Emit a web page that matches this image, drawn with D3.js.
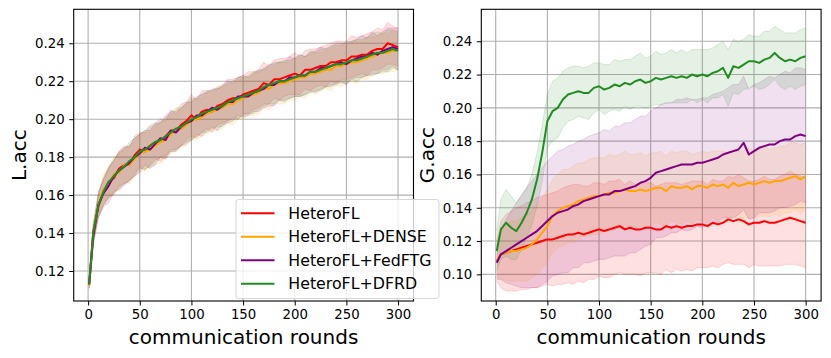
<!DOCTYPE html>
<html>
<head>
<meta charset="utf-8">
<script src="https://cdn.jsdelivr.net/npm/d3@7"></script>
<style>
  html, body { margin: 0; padding: 0; background: #fff; }
  svg text { font-family: "DejaVu Sans", sans-serif; fill: #000; }
</style>
</head>
<body>
<svg id="chart" width="831" height="358"></svg>
<script>
// ---------------- data ----------------
const rounds = [1,5,10,15,20,25,30,35,40,45,
  50,55,60,65,70,75,80,85,90,95,
  100,105,110,115,120,125,130,135,140,145,
  150,155,160,165,170,175,180,185,190,195,
  200,205,210,215,220,225,230,235,240,245,
  250,255,260,265,270,275,280,285,290,295,
  300];

const seriesNames = ["HeteroFL", "HeteroFL+DENSE", "HeteroFL+FedFTG", "HeteroFL+DFRD"];
const seriesColors = ["#ff0000", "#ffa500", "#800080", "#228b22"];

const xTicks = [0, 50, 100, 150, 200, 250, 300];
const yTicksL = [0.12, 0.14, 0.16, 0.18, 0.20, 0.22, 0.24];
const yTicksR = [0.10, 0.12, 0.14, 0.16, 0.18, 0.20, 0.22, 0.24];

// L.acc means
const lRed = [0.113,0.141,0.154,0.162,0.167,0.169,0.174,0.176,0.176,0.181,
  0.184,0.183,0.186,0.188,0.188,0.191,0.194,0.194,0.197,0.199,
  0.202,0.200,0.204,0.205,0.204,0.207,0.208,0.210,0.211,0.211,
  0.213,0.214,0.215,0.216,0.219,0.218,0.221,0.221,0.222,0.223,
  0.224,0.223,0.226,0.226,0.227,0.228,0.228,0.230,0.230,0.231,
  0.231,0.233,0.233,0.234,0.234,0.236,0.237,0.237,0.240,0.239,
  0.238];
const lOrange = [0.112,0.139,0.155,0.163,0.166,0.171,0.172,0.176,0.176,0.179,
  0.182,0.183,0.184,0.186,0.188,0.189,0.192,0.194,0.195,0.197,
  0.199,0.200,0.201,0.203,0.204,0.205,0.206,0.208,0.208,0.210,
  0.211,0.212,0.213,0.214,0.216,0.216,0.218,0.219,0.219,0.220,
  0.221,0.222,0.222,0.224,0.224,0.225,0.226,0.226,0.228,0.228,
  0.229,0.230,0.230,0.231,0.232,0.233,0.234,0.235,0.235,0.236,
  0.236];
const lPurple = [0.113,0.138,0.155,0.161,0.165,0.170,0.173,0.175,0.177,0.180,
  0.182,0.185,0.184,0.187,0.190,0.189,0.194,0.193,0.196,0.198,
  0.199,0.202,0.202,0.204,0.206,0.205,0.207,0.209,0.209,0.212,
  0.212,0.212,0.214,0.215,0.216,0.218,0.218,0.220,0.220,0.222,
  0.222,0.223,0.223,0.225,0.225,0.227,0.227,0.228,0.229,0.230,
  0.229,0.231,0.232,0.233,0.233,0.235,0.234,0.236,0.237,0.238,
  0.237];
const lGreen = [0.113,0.140,0.155,0.162,0.167,0.170,0.173,0.175,0.178,0.180,
  0.183,0.184,0.186,0.188,0.189,0.191,0.193,0.195,0.196,0.198,
  0.200,0.201,0.203,0.204,0.205,0.206,0.207,0.209,0.210,0.211,
  0.212,0.213,0.214,0.215,0.217,0.218,0.219,0.220,0.220,0.221,
  0.222,0.223,0.223,0.225,0.225,0.226,0.227,0.228,0.229,0.229,
  0.230,0.231,0.231,0.232,0.233,0.234,0.235,0.235,0.236,0.237,
  0.236];

// L.acc spreads
const lRedStd = [0.002,0.004,0.006,0.007,0.008,0.009,0.009,0.010,0.009,0.010,
  0.009,0.010,0.010,0.009,0.010,0.011,0.010,0.010,0.011,0.010,
  0.011,0.010,0.011,0.010,0.011,0.010,0.010,0.011,0.010,0.011,
  0.010,0.011,0.010,0.010,0.011,0.010,0.010,0.011,0.010,0.010,
  0.011,0.010,0.010,0.011,0.010,0.010,0.011,0.010,0.011,0.010,
  0.010,0.011,0.010,0.010,0.011,0.010,0.011,0.010,0.011,0.010,
  0.010];
const lOrangeStd = [0.002,0.005,0.006,0.008,0.008,0.009,0.010,0.009,0.010,0.009,
  0.010,0.010,0.009,0.010,0.011,0.010,0.010,0.011,0.010,0.011,
  0.010,0.011,0.010,0.011,0.010,0.011,0.011,0.010,0.011,0.010,
  0.011,0.010,0.011,0.011,0.010,0.011,0.010,0.011,0.011,0.010,
  0.011,0.010,0.011,0.010,0.011,0.010,0.010,0.011,0.010,0.011,
  0.010,0.010,0.011,0.010,0.011,0.010,0.010,0.011,0.010,0.011,
  0.010];
const lPurpleStd = [0.002,0.004,0.007,0.007,0.009,0.008,0.010,0.010,0.009,0.010,
  0.010,0.009,0.010,0.011,0.010,0.010,0.011,0.010,0.010,0.011,
  0.010,0.010,0.011,0.010,0.010,0.011,0.010,0.011,0.010,0.010,
  0.011,0.010,0.010,0.011,0.010,0.011,0.011,0.010,0.010,0.011,
  0.010,0.011,0.010,0.010,0.011,0.011,0.010,0.010,0.011,0.010,
  0.011,0.010,0.010,0.011,0.010,0.011,0.010,0.010,0.011,0.010,
  0.011];
const lGreenStd = [0.002,0.005,0.006,0.007,0.008,0.009,0.009,0.009,0.010,0.010,
  0.009,0.010,0.011,0.010,0.009,0.010,0.010,0.011,0.010,0.010,
  0.011,0.010,0.010,0.011,0.010,0.010,0.011,0.010,0.010,0.011,
  0.010,0.010,0.011,0.010,0.010,0.010,0.011,0.010,0.011,0.010,
  0.010,0.011,0.010,0.011,0.010,0.011,0.010,0.011,0.010,0.010,
  0.011,0.010,0.011,0.010,0.010,0.011,0.011,0.010,0.011,0.010,
  0.010];

// G.acc means
const gRed = [0.108,0.112,0.113,0.114,0.115,0.116,0.117,0.118,0.119,0.120,
  0.121,0.121,0.122,0.123,0.124,0.124,0.125,0.124,0.125,0.126,
  0.127,0.126,0.127,0.128,0.129,0.127,0.128,0.127,0.127,0.128,
  0.128,0.127,0.127,0.129,0.128,0.129,0.128,0.129,0.129,0.130,
  0.130,0.129,0.131,0.130,0.131,0.133,0.132,0.133,0.132,0.130,
  0.131,0.131,0.132,0.131,0.131,0.132,0.133,0.134,0.133,0.132,
  0.131];
const gOrange = [0.108,0.112,0.113,0.114,0.114,0.115,0.116,0.118,0.121,0.125,
  0.129,0.135,0.138,0.140,0.141,0.142,0.144,0.145,0.146,0.147,
  0.147,0.148,0.149,0.149,0.150,0.151,0.150,0.150,0.151,0.150,
  0.151,0.152,0.152,0.150,0.153,0.152,0.152,0.153,0.151,0.153,
  0.153,0.152,0.154,0.153,0.154,0.152,0.155,0.153,0.154,0.155,
  0.154,0.155,0.156,0.155,0.156,0.156,0.157,0.158,0.159,0.157,
  0.159];
const gPurple = [0.107,0.112,0.114,0.116,0.118,0.120,0.122,0.124,0.126,0.129,
  0.132,0.135,0.137,0.138,0.139,0.141,0.142,0.144,0.145,0.146,
  0.147,0.148,0.148,0.150,0.150,0.151,0.152,0.153,0.155,0.156,
  0.158,0.161,0.162,0.163,0.164,0.165,0.166,0.166,0.166,0.167,
  0.167,0.168,0.169,0.170,0.172,0.173,0.174,0.175,0.179,0.172,
  0.174,0.176,0.177,0.178,0.178,0.180,0.181,0.181,0.183,0.184,
  0.183];
const gGreen = [0.114,0.127,0.131,0.128,0.126,0.131,0.137,0.145,0.157,0.173,
  0.192,0.198,0.200,0.205,0.208,0.209,0.210,0.209,0.209,0.212,
  0.213,0.211,0.212,0.214,0.213,0.215,0.214,0.216,0.217,0.215,
  0.216,0.218,0.217,0.218,0.219,0.218,0.219,0.218,0.220,0.219,
  0.220,0.219,0.221,0.222,0.224,0.218,0.225,0.224,0.226,0.228,
  0.228,0.227,0.229,0.230,0.233,0.230,0.228,0.229,0.228,0.230,
  0.231];

// G.acc spreads
const gRedStd = [0.012,0.020,0.023,0.024,0.025,0.025,0.026,0.026,0.027,0.027,
  0.027,0.028,0.028,0.029,0.029,0.030,0.029,0.029,0.028,0.029,
  0.028,0.028,0.029,0.028,0.028,0.027,0.028,0.027,0.028,0.027,
  0.027,0.026,0.027,0.026,0.027,0.026,0.026,0.026,0.027,0.026,
  0.026,0.025,0.026,0.026,0.025,0.026,0.026,0.027,0.026,0.026,
  0.025,0.026,0.027,0.026,0.026,0.027,0.027,0.028,0.027,0.027,
  0.027];
const gOrangeStd = [0.010,0.015,0.017,0.018,0.018,0.019,0.020,0.020,0.021,0.021,
  0.022,0.022,0.022,0.023,0.022,0.023,0.023,0.022,0.023,0.023,
  0.023,0.022,0.023,0.022,0.022,0.023,0.022,0.022,0.022,0.021,
  0.022,0.021,0.022,0.021,0.021,0.021,0.022,0.021,0.021,0.020,
  0.021,0.021,0.020,0.021,0.020,0.021,0.020,0.021,0.020,0.021,
  0.020,0.020,0.021,0.020,0.020,0.021,0.020,0.021,0.020,0.021,
  0.020];
const gPurpleStd = [0.010,0.015,0.019,0.022,0.025,0.028,0.030,0.032,0.034,0.035,
  0.036,0.036,0.037,0.037,0.038,0.037,0.038,0.037,0.038,0.038,
  0.038,0.039,0.038,0.039,0.039,0.040,0.039,0.040,0.040,0.039,
  0.040,0.039,0.040,0.040,0.039,0.040,0.039,0.040,0.039,0.038,
  0.039,0.038,0.039,0.039,0.038,0.039,0.040,0.039,0.040,0.039,
  0.040,0.039,0.040,0.041,0.040,0.040,0.041,0.040,0.041,0.040,
  0.040];
const gGreenStd = [0.012,0.018,0.020,0.019,0.017,0.016,0.015,0.015,0.016,0.017,
  0.016,0.018,0.018,0.017,0.016,0.016,0.015,0.015,0.016,0.015,
  0.014,0.015,0.014,0.015,0.015,0.014,0.015,0.015,0.016,0.015,
  0.015,0.016,0.015,0.015,0.016,0.015,0.016,0.015,0.015,0.016,
  0.015,0.016,0.015,0.016,0.016,0.017,0.016,0.016,0.015,0.016,
  0.015,0.016,0.017,0.016,0.016,0.017,0.017,0.016,0.017,0.017,
  0.017];

// ---------------- drawing ----------------
const svg = d3.select("#chart");
const plotTop = 9.3, plotBottom = 301;
const xDomain = [-13.95, 314.95];

function panel(id, left, right, yDomain, yTicks, ylabel, ylabelX, means, stds) {
  const x = d3.scaleLinear().domain(xDomain).range([left, right]);
  const y = d3.scaleLinear().domain(yDomain).range([plotBottom, plotTop]);
  const g = svg.append("g");

  g.append("clipPath").attr("id", "clip" + id)
    .append("rect").attr("x", left).attr("y", plotTop)
    .attr("width", right - left).attr("height", plotBottom - plotTop);

  // grid
  const grid = g.append("g");
  grid.selectAll("line.gx").data(xTicks).enter().append("line")
    .attr("x1", d => x(d)).attr("x2", d => x(d))
    .attr("y1", plotTop).attr("y2", plotBottom)
    .attr("stroke", "#b0b0b0").attr("stroke-width", 1.1);
  grid.selectAll("line.gy").data(yTicks).enter().append("line")
    .attr("x1", left).attr("x2", right)
    .attr("y1", d => y(d)).attr("y2", d => y(d))
    .attr("stroke", "#b0b0b0").attr("stroke-width", 1.1);

  const plot = g.append("g").attr("clip-path", `url(#clip${id})`);
  const data = means.map((m, s) => rounds.map((r, i) => ({ r, m: m[i], sd: stds[s][i] })));

  const area = d3.area().x(d => x(d.r)).y0(d => y(d.m - d.sd)).y1(d => y(d.m + d.sd));
  const lineLo = d3.line().x(d => x(d.r)).y(d => y(d.m - d.sd));
  const lineHi = d3.line().x(d => x(d.r)).y(d => y(d.m + d.sd));
  const line = d3.line().x(d => x(d.r)).y(d => y(d.m));

  data.forEach((d, s) => {
    plot.append("path").attr("d", area(d))
      .attr("fill", seriesColors[s]).attr("fill-opacity", 0.12);
    plot.append("path").attr("d", lineLo(d)).attr("fill", "none")
      .attr("stroke", seriesColors[s]).attr("stroke-opacity", 0.15).attr("stroke-width", 1);
    plot.append("path").attr("d", lineHi(d)).attr("fill", "none")
      .attr("stroke", seriesColors[s]).attr("stroke-opacity", 0.15).attr("stroke-width", 1);
  });
  data.forEach((d, s) => {
    plot.append("path").attr("d", line(d)).attr("fill", "none")
      .attr("stroke", seriesColors[s]).attr("stroke-width", 2)
      .attr("stroke-linejoin", "round");
  });

  // axes
  const xAxis = d3.axisBottom(x).tickValues(xTicks).tickSize(4.5).tickPadding(4.5)
    .tickFormat(d3.format("d"));
  const xa = g.append("g").attr("transform", `translate(0,${plotBottom})`).call(xAxis);
  const yAxis = d3.axisLeft(y).tickValues(yTicks).tickSize(4.5).tickPadding(4.5)
    .tickFormat(d3.format(".2f"));
  const ya = g.append("g").attr("transform", `translate(${left},0)`).call(yAxis);
  [xa, ya].forEach(a => {
    a.select(".domain").remove();
    a.selectAll(".tick line").attr("stroke", "#000").attr("stroke-width", 1);
    a.selectAll(".tick text").attr("font-size", 13.3).attr("font-family", "DejaVu Sans");
  });

  // frame
  g.append("rect").attr("x", left).attr("y", plotTop)
    .attr("width", right - left).attr("height", plotBottom - plotTop)
    .attr("fill", "none").attr("stroke", "#000").attr("stroke-width", 1.1);

  // labels
  g.append("text").attr("x", (left + right) / 2).attr("y", 344)
    .attr("text-anchor", "middle").attr("font-size", 20)
    .text("communication rounds");
  g.append("text")
    .attr("transform", `translate(${ylabelX},${(plotTop + plotBottom) / 2}) rotate(-90)`)
    .attr("text-anchor", "middle").attr("font-size", 20)
    .text(ylabel);
}

panel("L", 73.7, 413.5, [0.1042, 0.2579], yTicksL, "L.acc", 26,
  [lRed, lOrange, lPurple, lGreen], [lRedStd, lOrangeStd, lPurpleStd, lGreenStd]);
panel("R", 481.3, 821.1, [0.0840, 0.2592], yTicksR, "G.acc", 433.5,
  [gRed, gOrange, gPurple, gGreen], [gRedStd, gOrangeStd, gPurpleStd, gGreenStd]);

// legend
const lg = svg.append("g");
lg.append("rect").attr("x", 236).attr("y", 199.5).attr("width", 203).attr("height", 99)
  .attr("rx", 2.5).attr("fill", "#fff").attr("fill-opacity", 0.8)
  .attr("stroke", "#d6d6d6").attr("stroke-width", 1);
const rowY = d3.scaleLinear().domain([0, 3]).range([213.3, 283.7]);
seriesNames.forEach((name, i) => {
  lg.append("line").attr("x1", 241).attr("x2", 274.5)
    .attr("y1", rowY(i)).attr("y2", rowY(i))
    .attr("stroke", seriesColors[i]).attr("stroke-width", 2);
  lg.append("text").attr("x", 288.3).attr("y", rowY(i) + 5.7)
    .attr("font-size", 15.8).text(name);
});
</script>
</body>
</html>
